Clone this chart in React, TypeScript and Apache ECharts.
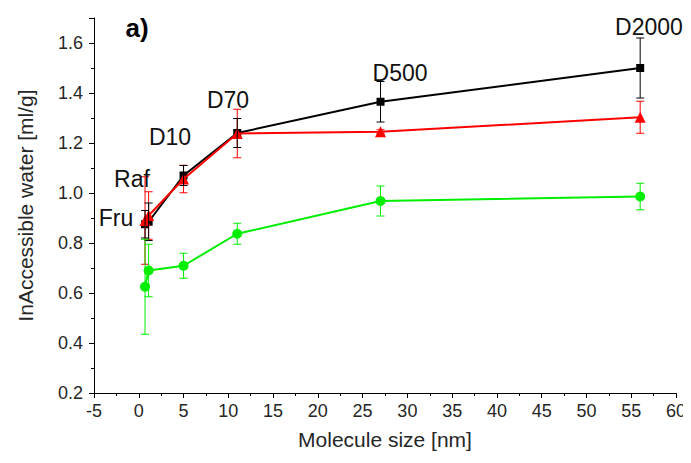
import React, { useEffect, useRef } from "react";
import * as echarts from "echarts";

// Molecule size [nm] of each probe
const probeNames = ["Fru", "Raf", "D10", "D70", "D500", "D2000"];
const moleculeSize = [0.7, 1.1, 5, 11, 27, 56];

// InAccessible water [ml/g] and error (±)
const blackValues = [0.875, 0.885, 1.07, 1.24, 1.365, 1.5];
const blackErrors = [0.055, 0.075, 0.04, 0.058, 0.081, 0.12];
const redValues = [0.89, 0.91, 1.056, 1.238, 1.245, 1.303];
const redErrors = [0.175, 0.095, 0.055, 0.097, 0.008, 0.064];
const greenValues = [0.625, 0.69, 0.709, 0.837, 0.968, 0.986];
const greenErrors = [0.19, 0.105, 0.05, 0.042, 0.06, 0.053];

const xTicks = { min: -5, max: 60, interval: 5 };
const yTicks = { min: 0.2, max: 1.7, interval: 0.2 };

const BLACK = "#000000";
const RED = "#ff0000";
const GREEN = "#00ee00";
const FONT = "'Liberation Sans', Arial, sans-serif";

// annotation placement for each probe name (pixel anchor of text centre)
const probeLabelPos: Record<string, [number, number]> = {
  Fru: [116, 218],
  Raf: [132, 179],
  D10: [170, 137],
  D70: [228, 100],
  D500: [400, 73],
  D2000: [649, 27],
};

function points(values: number[]) {
  return moleculeSize.map((x, i) => [x, values[i]]);
}

function errorBars(values: number[], errors: number[], color: string, z: number) {
  return {
    type: "custom",
    silent: true,
    z,
    data: moleculeSize.map((x, i) => [x, values[i] - errors[i], values[i] + errors[i]]),
    encode: { x: 0, y: [1, 2] },
    renderItem: (_params: any, api: any) => {
      const x = api.value(0);
      const lo = api.coord([x, api.value(1)]);
      const hi = api.coord([x, api.value(2)]);
      const w = 4;
      const style = { stroke: color, lineWidth: 1 };
      return {
        type: "group",
        children: [
          { type: "line", shape: { x1: lo[0], y1: lo[1], x2: hi[0], y2: hi[1] }, style },
          { type: "line", shape: { x1: lo[0] - w, y1: lo[1], x2: lo[0] + w, y2: lo[1] }, style },
          { type: "line", shape: { x1: hi[0] - w, y1: hi[1], x2: hi[0] + w, y2: hi[1] }, style },
        ],
      };
    },
  };
}

function lineSeries(values: number[], color: string, symbol: string, size: number, z: number) {
  return {
    type: "line",
    data: points(values),
    symbol,
    symbolSize: size,
    showSymbol: true,
    z,
    lineStyle: { color, width: 2 },
    itemStyle: { color, borderWidth: 0 },
  };
}

export default function App() {
  const ref = useRef<HTMLDivElement>(null);

  useEffect(() => {
    if (!ref.current) return;
    const chart = echarts.init(ref.current, undefined, { renderer: "svg" });

    const axisLabelStyle = { color: "#262626", fontSize: 18, fontFamily: FONT };
    const axisLineStyle = { lineStyle: { color: "#000", width: 1 } };

    chart.setOption({
      animation: false,
      backgroundColor: "#ffffff",
      grid: { left: 94, right: 15, top: 18, bottom: 70 },
      xAxis: {
        type: "value",
        ...xTicks,
        name: "Molecule size [nm]",
        nameLocation: "middle",
        nameGap: 36,
        nameTextStyle: { color: "#262626", fontSize: 21, fontFamily: FONT },
        axisLine: { show: true, onZero: false, ...axisLineStyle },
        axisTick: { show: true, inside: false, length: 5, lineStyle: { color: "#000" } },
        minorTick: { show: true, splitNumber: 2, length: 3, lineStyle: { color: "#000" } },
        splitLine: { show: false },
        axisLabel: { ...axisLabelStyle, margin: 9 },
      },
      yAxis: {
        type: "value",
        ...yTicks,
        name: "InAccessible water [ml/g]",
        nameLocation: "middle",
        nameGap: 58,
        nameTextStyle: { color: "#262626", fontSize: 21, fontFamily: FONT },
        axisLine: { show: true, onZero: false, ...axisLineStyle },
        axisTick: { show: true, inside: false, length: 5, lineStyle: { color: "#000" } },
        minorTick: { show: true, splitNumber: 2, length: 3, lineStyle: { color: "#000" } },
        splitLine: { show: false },
        axisLabel: {
          ...axisLabelStyle,
          margin: 11,
          showMaxLabel: false,
          formatter: (v: number) => v.toFixed(1),
        },
      },
      graphic: [
        {
          type: "text",
          x: 137,
          y: 28,
          style: {
            text: "a)",
            font: `bold 26px ${FONT}`,
            fill: "#000",
            textAlign: "center",
            textVerticalAlign: "middle",
            align: "center",
            verticalAlign: "middle",
          },
        },
        ...probeNames.map((name) => ({
          type: "text",
          x: probeLabelPos[name][0],
          y: probeLabelPos[name][1],
          z: 10,
          style: {
            text: name,
            font: `23px ${FONT}`,
            fill: "#111",
            textAlign: "center",
            textVerticalAlign: "middle",
            align: "center",
            verticalAlign: "middle",
          },
        })),
      ],
      series: [
        lineSeries(blackValues, BLACK, "rect", 8, 2),
        lineSeries(redValues, RED, "triangle", 11, 3),
        errorBars(redValues, redErrors, RED, 4),
        errorBars(blackValues, blackErrors, BLACK, 5),
        lineSeries(greenValues, GREEN, "circle", 10, 6),
        errorBars(greenValues, greenErrors, GREEN, 7),
      ],
    });

    return () => chart.dispose();
  }, []);

  return <div ref={ref} style={{ width: 691, height: 463, margin: -8 }} />;
}
